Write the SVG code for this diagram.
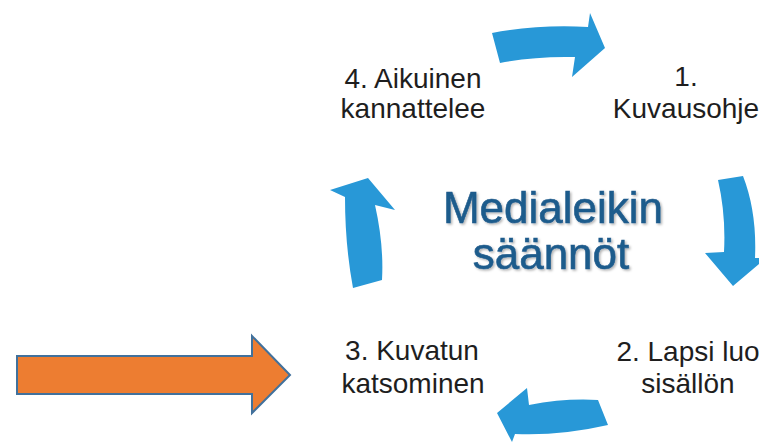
<svg xmlns="http://www.w3.org/2000/svg" width="759" height="447" viewBox="0 0 759 447">
<defs>
<style>
.lbl{font-family:"Liberation Sans",Arial,sans-serif;font-size:28px;fill:#1e1e1e;text-anchor:middle}
.ttl{font-family:"Liberation Sans",Arial,sans-serif;font-size:44px;text-anchor:middle;fill:#1f5b8c;stroke:#1f5b8c;stroke-width:0.6}
.cyc{fill:#2898d7}
.bigarrow{fill:#ed7d31;stroke:#41719c;stroke-width:2}
</style>
<filter id="shadow" x="-10%" y="-30%" width="120%" height="160%">
<feDropShadow dx="1.5" dy="1.5" stdDeviation="1.2" flood-color="#000" flood-opacity="0.3"/>
</filter>
</defs>
<rect width="759" height="447" fill="#ffffff"/>

<g id="title" filter="url(#shadow)">
<text class="ttl" x="553" y="223">Medialeikin</text>
<text class="ttl" x="551" y="269">säännöt</text>
</g>

<g id="step1">
<text class="lbl" x="686" y="86">1.</text>
<text class="lbl" x="686" y="118">Kuvausohje</text>
</g>
<g id="step2">
<text class="lbl" x="688" y="361">2. Lapsi luo</text>
<text class="lbl" x="688" y="393">sisällön</text>
</g>
<g id="step3">
<text class="lbl" x="412" y="360">3. Kuvatun</text>
<text class="lbl" x="413" y="393">katsominen</text>
</g>
<g id="step4">
<text class="lbl" x="413" y="88">4. Aikuinen</text>
<text class="lbl" x="413" y="118">kannattelee</text>
</g>

<g id="connectors">
<!-- top: 4 -> 1 -->
<path class="cyc" d="M492,33 Q540,24 588,27 L590,13 L605,48 L572,77 L575,57 Q535,56 500,63 Z"/>
<!-- right: 1 -> 2 -->
<path class="cyc" d="M718,180 Q726,215 724,252 L705,253 L733,286 L766,258 L755,258 Q757,212 743,176 Z"/>
<!-- bottom: 2 -> 3 -->
<path class="cyc" d="M598,400 Q565,398 529,405 L527,388 L497,413 L512,442 L515,434 Q560,436 608,425 Z"/>
<!-- left: 3 -> 4 -->
<path class="cyc" d="M353,288 Q345,245 345,197 L330,190 L368,178 L395,210 L375,205 Q384,245 382,280 Z"/>
</g>

<g id="pointer">
<path class="bigarrow" d="M17,356 L252,356 L252,336 L290,375 L252,413 L252,394 L17,394 Z"/>
</g>
</svg>
